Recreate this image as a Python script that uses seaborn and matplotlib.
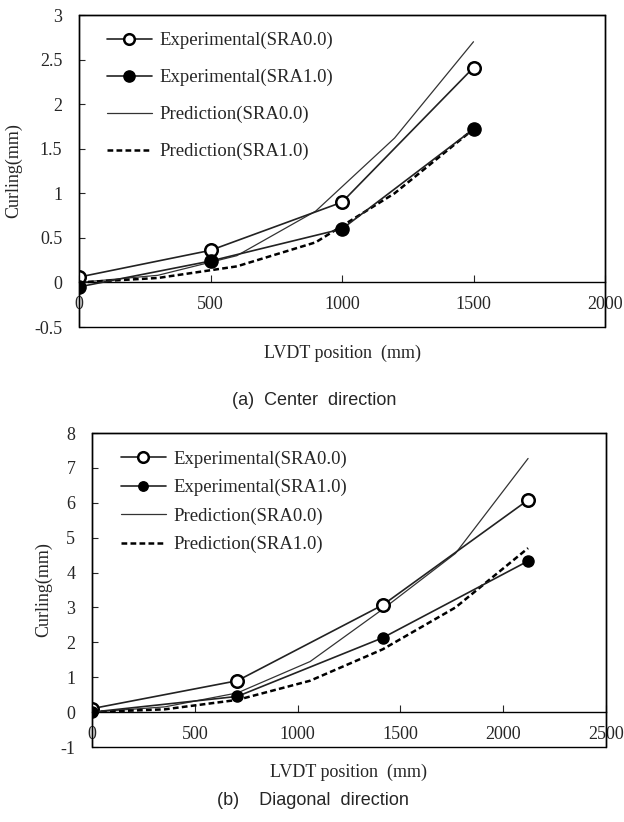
import numpy as np
import pandas as pd
import matplotlib
matplotlib.use("Agg")
import matplotlib.pyplot as plt
from matplotlib.patches import Rectangle
from matplotlib.ticker import FuncFormatter
import seaborn as sns

# ---------------- data ----------------
# (a) Center direction
center_x = [0, 500, 1000, 1500]
center_exp_sra00 = [0.06, 0.36, 0.90, 2.41]
center_exp_sra10 = [-0.05, 0.24, 0.60, 1.72]
center_pred_x = [0, 300, 600, 900, 1200, 1500]
center_pred_sra00 = [0.0, 0.08, 0.30, 0.80, 1.62, 2.70]
center_pred_sra10 = [0.0, 0.05, 0.18, 0.45, 1.00, 1.72]

# (b) Diagonal direction
diag_x = [0, 707, 1414, 2121]
diag_exp_sra00 = [0.10, 0.90, 3.07, 6.08]
diag_exp_sra10 = [0.0, 0.45, 2.13, 4.33]
diag_pred_x = [0, 354, 707, 1061, 1414, 1768, 2121]
diag_pred_sra00 = [0.0, 0.15, 0.55, 1.45, 2.95, 4.55, 7.27]
diag_pred_sra10 = [0.0, 0.08, 0.35, 0.90, 1.80, 3.00, 4.70]

labels = ["Experimental(SRA0.0)", "Experimental(SRA1.0)",
          "Prediction(SRA0.0)", "Prediction(SRA1.0)"]

sns.set_style("ticks")
plt.rcParams['font.family'] = ['Liberation Serif', 'DejaVu Sans']
plt.rcParams['axes.unicode_minus'] = False

W, H = 624, 822
fig = plt.figure(figsize=(W / 100, H / 100), dpi=100)


def px_axes(l, t, r, b):
    return [l / W, 1 - b / H, (r - l) / W, (b - t) / H]


def fmt(v, pos):
    return "%g" % v


def draw(ax, x, e0, e1, px, p0, p1, xlim, ylim, xticks, yticks,
         ms_open, ms_fill, spacing, leg_anchor):
    df_e0 = pd.DataFrame({"x": x, "y": e0})
    df_e1 = pd.DataFrame({"x": x, "y": e1})
    df_p0 = pd.DataFrame({"x": px, "y": p0})
    df_p1 = pd.DataFrame({"x": px, "y": p1})
    sns.lineplot(data=df_e0, x="x", y="y", ax=ax, color="#222222", lw=1.2,
                 marker="o", markersize=ms_open, markerfacecolor="white",
                 markeredgecolor="black", markeredgewidth=1.8,
                 label=labels[0], estimator=None, sort=False, zorder=4)
    sns.lineplot(data=df_e1, x="x", y="y", ax=ax, color="#222222", lw=1.2,
                 marker="o", markersize=ms_fill, markerfacecolor="black",
                 markeredgecolor="black", markeredgewidth=1.0,
                 label=labels[1], estimator=None, sort=False, zorder=4)
    sns.lineplot(data=df_p0, x="x", y="y", ax=ax, color="#333333", lw=0.9,
                 label=labels[2], estimator=None, sort=False, zorder=3)
    sns.lineplot(data=df_p1, x="x", y="y", ax=ax, color="black", lw=1.8,
                 linestyle=(0, (2.3, 1.3)),
                 label=labels[3], estimator=None, sort=False, zorder=3)
    ax.set_xlim(*xlim)
    ax.set_ylim(*ylim)
    ax.set_xticks(xticks)
    ax.set_yticks(yticks)
    ax.xaxis.set_major_formatter(FuncFormatter(fmt))
    ax.yaxis.set_major_formatter(FuncFormatter(fmt))
    ax.set_xlabel("")
    ax.set_ylabel("")
    for s in ["top", "right", "left"]:
        ax.spines[s].set_visible(True)
        ax.spines[s].set_color("black")
        ax.spines[s].set_linewidth(1.0)
    ax.spines["bottom"].set_position(("data", 0))
    ax.spines["bottom"].set_color("black")
    ax.spines["bottom"].set_linewidth(1.0)
    ax.add_patch(Rectangle((0, 0), 1, 1, transform=ax.transAxes, fill=False,
                           edgecolor="black", lw=1.0, clip_on=False, zorder=5))
    ax.tick_params(axis="x", direction="in", length=5, width=0.8,
                   pad=10, labelsize=13, top=False)
    ax.tick_params(axis="y", direction="in", length=4, width=0.8,
                   pad=12, labelsize=13, right=False)
    leg = ax.legend(loc="upper left", bbox_to_anchor=leg_anchor, frameon=False,
                    fontsize=13.5, borderaxespad=0, borderpad=0,
                    labelspacing=spacing, handlelength=2.4, handletextpad=0.4,
                    markerscale=0.85)
    return leg


ax1 = fig.add_axes(px_axes(79, 15, 605, 327))
draw(ax1, center_x, center_exp_sra00, center_exp_sra10,
     center_pred_x, center_pred_sra00, center_pred_sra10,
     (0, 2000), (-0.5, 3), [0, 500, 1000, 1500, 2000],
     np.arange(-0.5, 3.01, 0.5), 9, 9.5, 1.05, (0.053, 0.945))

ax2 = fig.add_axes(px_axes(92, 433, 606, 747))
draw(ax2, diag_x, diag_exp_sra00, diag_exp_sra10,
     diag_pred_x, diag_pred_sra00, diag_pred_sra10,
     (0, 2500), (-1, 8), [0, 500, 1000, 1500, 2000, 2500],
     np.arange(-1, 8.01, 1), 9, 8, 0.6, (0.056, 0.945))

# axis labels
fig.text(342 / W, 1 - 353 / H, "LVDT position  (mm)", ha="center", va="center",
         fontsize=13)
fig.text(14 / W, 1 - 171 / H, "Curling(mm)", ha="center", va="center",
         rotation=90, fontsize=13)
fig.text(349 / W, 1 - 772 / H, "LVDT position  (mm)", ha="center", va="center",
         fontsize=13)
fig.text(44 / W, 1 - 590 / H, "Curling(mm)", ha="center", va="center",
         rotation=90, fontsize=13)

# captions
fig.text(314 / W, 1 - 400 / H, "(a)  Center  direction", ha="center",
         va="center", fontsize=13, family=["Liberation Sans", "DejaVu Sans"])
fig.text(313 / W, 1 - 800 / H, "(b)    Diagonal  direction", ha="center",
         va="center", fontsize=13, family=["Liberation Sans", "DejaVu Sans"])

fig.savefig("out.png", dpi=100)
